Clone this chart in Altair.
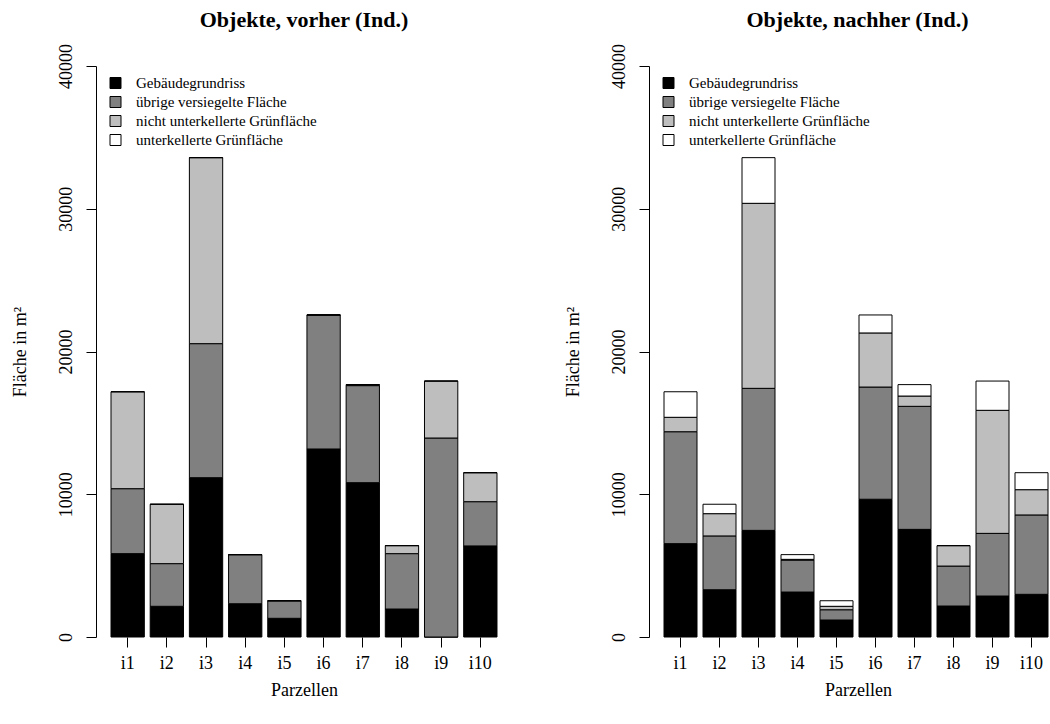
import altair as alt
import pandas as pd

parzellen = ["i1", "i2", "i3", "i4", "i5", "i6", "i7", "i8", "i9", "i10"]
kategorien = [
    "Gebäudegrundriss",
    "übrige versiegelte Fläche",
    "nicht unterkellerte Grünfläche",
    "unterkellerte Grünfläche",
]
farben = ["#000000", "#808080", "#BEBEBE", "#FFFFFF"]

# vorher
geb_vorher = [5840, 2150, 11160, 2330, 1310, 13170, 10810, 1960, 0, 6380]
vers_vorher = [4550, 2990, 9390, 3440, 1230, 9390, 6800, 3880, 13940, 3100]
nuk_vorher = [6790, 4160, 13030, 0, 0, 0, 70, 560, 3990, 2030]
uk_vorher = [0, 0, 0, 0, 0, 0, 0, 0, 0, 0]

# nachher
geb_nachher = [6540, 3310, 7470, 3150, 1190, 9650, 7540, 2170, 2870, 2990]
vers_nachher = [7840, 3770, 9950, 2240, 720, 7860, 8620, 2800, 4390, 5560]
nuk_nachher = [1010, 1560, 12960, 50, 240, 3790, 720, 1430, 8620, 1770]
uk_nachher = [1790, 660, 3200, 330, 390, 1260, 800, 0, 2050, 1190]

y_ticks = [0, 10000, 20000, 30000, 40000]

FONT = "Liberation Serif"
PLOT_H = 571


def long_df(series):
    rows = []
    for k, (kat, vals) in enumerate(zip(kategorien, series)):
        for p, v in zip(parzellen, vals):
            rows.append({"parzelle": p, "kategorie": kat, "flaeche": v, "ord": k})
    return pd.DataFrame(rows)


def panel(title, series, view_w, pad_inner, pad_outer, align, title_dx, xtitle_x):
    df = long_df(series)
    return (
        alt.Chart(df)
        .mark_bar(stroke="black", strokeWidth=1)
        .encode(
            x=alt.X(
                "parzelle:N",
                sort=parzellen,
                scale=alt.Scale(
                    domain=parzellen,
                    paddingInner=pad_inner,
                    paddingOuter=pad_outer,
                    align=align,
                ),
                axis=alt.Axis(
                    title="Parzellen",
                    titleFont=FONT,
                    titleFontSize=18,
                    titleFontWeight="normal",
                    titleColor="black",
                    titleX=xtitle_x,
                    titleY=58,
                    titleAlign="center",
                    titleBaseline="alphabetic",
                    labelFont=FONT,
                    labelFontSize=18,
                    labelColor="black",
                    labelAngle=0,
                    labelBaseline="alphabetic",
                    labelPadding=21,
                    tickSize=10,
                    tickColor="black",
                    tickWidth=1,
                    domain=False,
                    grid=False,
                ),
            ),
            y=alt.Y(
                "flaeche:Q",
                stack="zero",
                scale=alt.Scale(domain=[0, 40000], nice=False, zero=True),
                axis=alt.Axis(
                    values=y_ticks,
                    format="d",
                    title="Fläche in m²",
                    titleFont=FONT,
                    titleFontSize=18,
                    titleFontWeight="normal",
                    titleColor="black",
                    titleAngle=270,
                    titleX=-71,
                    titleY=PLOT_H / 2,
                    titleAlign="center",
                    titleBaseline="alphabetic",
                    labelFont=FONT,
                    labelFontSize=18,
                    labelColor="black",
                    labelAngle=270,
                    labelAlign="center",
                    labelBaseline="alphabetic",
                    labelPadding=15,
                    tickSize=10,
                    tickColor="black",
                    tickWidth=1,
                    domainColor="black",
                    domainWidth=1,
                    grid=False,
                ),
            ),
            color=alt.Color(
                "kategorie:N",
                title=None,
                scale=alt.Scale(domain=kategorien, range=farben),
                legend=alt.Legend(
                    orient="none",
                    legendX=12,
                    legendY=9.5,
                    padding=0,
                    symbolType="square",
                    symbolSize=121,
                    symbolStrokeColor="black",
                    symbolStrokeWidth=1,
                    symbolOpacity=1,
                    labelFont=FONT,
                    labelFontSize=15,
                    labelColor="black",
                    labelOffset=13,
                    rowPadding=3,
                    labelLimit=400,
                ),
            ),
            order=alt.Order("ord:Q", sort="ascending"),
        )
        .properties(
            width=view_w,
            height=PLOT_H,
            title=alt.TitleParams(
                text=title,
                font=FONT,
                fontSize=22,
                fontWeight="bold",
                color="black",
                anchor="middle",
                offset=12,
                dx=title_dx,
            ),
        )
    )


left = panel(
    "Objekte, vorher (Ind.)",
    [geb_vorher, vers_vorher, nuk_vorher, uk_vorher],
    416, 0.15, 0.383, 0.5, 0, 208,
)
right = panel(
    "Objekte, nachher (Ind.)",
    [geb_nachher, vers_nachher, nuk_nachher, uk_nachher],
    399, 0.154, 0.1925, 1.0, 9, 209,
)

chart = (
    alt.hconcat(left, right, spacing=137, bounds="flush")
    .resolve_legend(color="independent")
    .properties(
        padding={"left": 11, "top": 8, "right": 0, "bottom": 5},
        background="white",
    )
    .configure_view(strokeWidth=0)
)

chart.save("out.html", embed_options={"renderer": "svg", "actions": False})
